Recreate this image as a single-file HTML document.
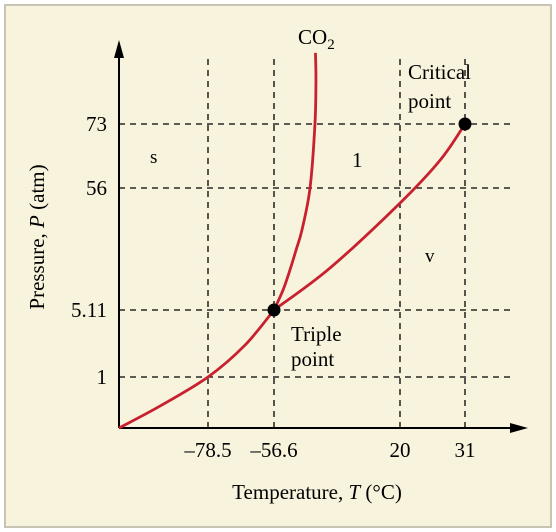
<!DOCTYPE html>
<html><head><meta charset="utf-8">
<style>
html,body{margin:0;padding:0;background:#fff;}
svg{display:block;font-family:"Liberation Serif",serif;}
</style></head>
<body>
<svg id="chart" width="556" height="532" viewBox="0 0 556 532">
<rect x="5" y="5" width="546" height="522" fill="#f8f3dc" stroke="#c8c4b4" stroke-width="2"/>
<g id="grid"></g>
<g id="axes"></g>
<g id="curves"></g>
<g id="labels"></g>
</svg>
<script>
// Piecewise (non-linear) axes
const xDomain = [-100, -78.5, -56.6, 20, 31, 45];
const xRange = [119, 208, 274, 400, 465, 515];
const yDomain = [0, 1, 5.11, 56, 73, 110];
const yRange = [428, 377, 310, 188, 124, 45];

const xTicks = [-78.5, -56.6, 20, 31];
const xTickLabels = ["\u201378.5", "\u201356.6", "20", "31"];
const yTicks = [1, 5.11, 56, 73];
const yTickLabels = ["1", "5.11", "56", "73"];

const sublimationT = [-100, -90.1, -78.5, -66.2, -56.6];
const sublimationP = [0, 0.43, 1, 2.96, 5.11];
const meltingT = [-56.6, -51.1, -46.9, -43.2, -39.6, -34.7, -31.7, -31.1, -31.4];
const meltingP = [5.11, 13.45, 21.8, 30.1, 38.5, 56, 73, 93.6, 106.3];
const vaporT = [-56.6, -22.6, 20, 26.8, 31];
const vaporP = [5.11, 22.6, 49.7, 63.4, 73];

const tripleT = [-56.6], tripleP = [5.11];
const criticalT = [31], criticalP = [73];

function pw(v, d, r){
  for(let i=0;i<d.length-1;i++){
    if(v<=d[i+1]||i===d.length-2){
      return r[i]+(v-d[i])/(d[i+1]-d[i])*(r[i+1]-r[i]);
    }
  }
}
const X = v=>pw(v,xDomain,xRange);
const Y = v=>pw(v,yDomain,yRange);
const NS="http://www.w3.org/2000/svg";
function mk(tag, attrs, parent){
  const e=document.createElementNS(NS,tag);
  for(const k in attrs) e.setAttribute(k,attrs[k]);
  parent.appendChild(e); return e;
}
const grid=document.getElementById('grid'), axes=document.getElementById('axes'),
 curves=document.getElementById('curves'), labels=document.getElementById('labels');
const x0=X(xDomain[0]), y0=Y(yDomain[0]);

xTicks.forEach((t,i)=>{
  const l=mk('line',{x1:X(t),x2:X(t),y1:y0,y2:55,stroke:'#000','stroke-width':1.3,'stroke-dasharray':'6,5'},grid);
  
  
  const tx=mk('text',{x:X(t),y:457,'text-anchor':'middle','font-size':21,fill:'#000'},labels);
  tx.textContent=xTickLabels[i];
  
  
});
yTicks.forEach((t,i)=>{
  const l=mk('line',{x1:x0,x2:515,y1:Y(t),y2:Y(t),stroke:'#000','stroke-width':1.3,'stroke-dasharray':'6,5'},grid);
  
  
  const tx=mk('text',{x:107,y:Y(t)+7,'text-anchor':'end','font-size':21,fill:'#000'},labels);
  tx.textContent=yTickLabels[i];
  
  
});

// axes
let a=mk('line',{x1:x0,x2:x0,y1:y0,y2:52,stroke:'#000','stroke-width':2},axes);


a=mk('polygon',{points:`${x0-5},58 ${x0},40 ${x0+5},58`,fill:'#000'},axes);


a=mk('line',{x1:x0,x2:515,y1:y0,y2:y0,stroke:'#000','stroke-width':2},axes);


a=mk('polygon',{points:`510,${y0-5} 528,${y0} 510,${y0+5}`,fill:'#000'},axes);



function curve(T,P,name){
  let d='M'+X(T[0])+','+Y(P[0]);
  const pts=T.map((t,i)=>[X(t),Y(P[i])]);
  for(let i=0;i<pts.length-1;i++){
    const p0=pts[Math.max(0,i-1)],p1=pts[i],p2=pts[i+1],p3=pts[Math.min(pts.length-1,i+2)];
    const c1=[p1[0]+(p2[0]-p0[0])/6,p1[1]+(p2[1]-p0[1])/6];
    const c2=[p2[0]-(p3[0]-p1[0])/6,p2[1]-(p3[1]-p1[1])/6];
    d+=` C${c1[0]},${c1[1]} ${c2[0]},${c2[1]} ${p2[0]},${p2[1]}`;
  }
  const p=mk('path',{d:d,fill:'none',stroke:'#c8202e','stroke-width':2.8},curves);
  
  
}
curve(sublimationT,sublimationP,'sublimation-curve');
curve(meltingT,meltingP,'melting-curve');
curve(vaporT,vaporP,'vaporization-curve');

let c=mk('circle',{cx:X(tripleT[0]),cy:Y(tripleP[0]),r:6.5,fill:'#000'},curves);


c=mk('circle',{cx:X(criticalT[0]),cy:Y(criticalP[0]),r:6.5,fill:'#000'},curves);



function txt(x,y,s,name,extra){
  const t=mk('text',Object.assign({x:x,y:y,'font-size':21,fill:'#000'},extra||{}),labels);
  t.innerHTML=s;
  
  
  return t;
}
txt(298,44,'CO<tspan font-size="15" dy="5">2</tspan>','co2-title');
txt(408,79,'Critical','critical-point-label-1');
txt(408,108,'point','critical-point-label-2');
txt(291,341,'Triple','triple-point-label-1');
txt(291,366,'point','triple-point-label-2');
txt(150,163,'s','solid-region-label',{'font-size':19});
txt(352,167,'1','liquid-region-label');
txt(425,262,'v','vapor-region-label',{'font-size':19});
txt(317,499,'Temperature, <tspan font-style="italic">T</tspan> (°C)','x-axis-title',{'text-anchor':'middle'});
txt(0,0,'Pressure, <tspan font-style="italic">P</tspan> (atm)','y-axis-title',{'text-anchor':'middle',transform:'translate(44,237) rotate(-90)'});
</script>
</body></html>
